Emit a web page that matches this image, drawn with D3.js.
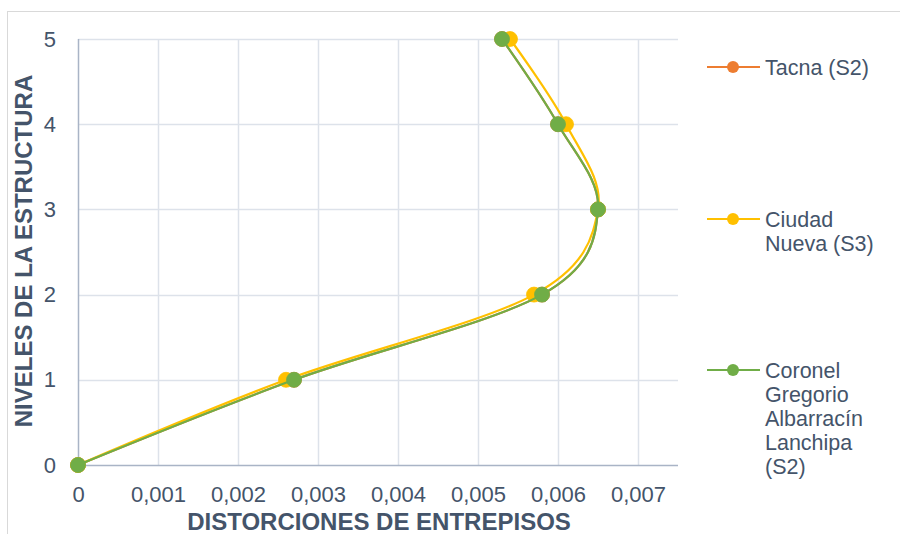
<!DOCTYPE html>
<html><head><meta charset="utf-8">
<script src="https://cdn.jsdelivr.net/npm/d3@7"></script>
<style>body{margin:0;background:#fff}svg{display:block}</style>
</head><body><svg id="c" width="900" height="534"></svg>
<script>
const levels = [0, 1, 2, 3, 4, 5];
const seriesNames = ["Tacna (S2)", "Ciudad Nueva (S3)", "Coronel Gregorio Albarracín Lanchipa (S2)"];
const tacna = [0, 0.0027, 0.0058, 0.0065, 0.0060, 0.0053];
const ciudadNueva = [0, 0.0026, 0.0057, 0.0065, 0.0061, 0.0054];
const coronel = [0, 0.0027, 0.0058, 0.0065, 0.0060, 0.0053];
const xTicks = [0, 0.001, 0.002, 0.003, 0.004, 0.005, 0.006, 0.007];
const yTicks = [0, 1, 2, 3, 4, 5];
const legendLines = [["Tacna (S2)"], ["Ciudad", "Nueva (S3)"], ["Coronel", "Gregorio", "Albarracín", "Lanchipa", "(S2)"]];
const colors = ["#ED7D31", "#FFC000", "#70AD47"];

const svg = d3.select("#c");
const font = "'Liberation Sans', Arial, sans-serif";
const txt = "#44546A";

svg.append("rect").attr("x", 7.5).attr("y", 11.5).attr("width", 900).attr("height", 540)
  .attr("fill", "#fff").attr("stroke", "#D9D9D9").attr("stroke-width", 1);

const x = d3.scaleLinear().domain([0, 0.0075]).range([78, 678]);
const y = d3.scaleLinear().domain([0, 5]).range([465, 39]);

const g = svg.append("g");
g.selectAll(".vg").data(xTicks.slice(1)).join("line")
  .attr("x1", d => Math.round(x(d)) + 0.5).attr("x2", d => Math.round(x(d)) + 0.5)
  .attr("y1", y(5)).attr("y2", y(0)).attr("stroke", "#DDE2EA").attr("stroke-width", 1.5);
g.selectAll(".hg").data(yTicks.slice(1)).join("line")
  .attr("x1", x(0)).attr("x2", x(0.0075))
  .attr("y1", d => Math.round(y(d)) + 0.5).attr("y2", d => Math.round(y(d)) + 0.5)
  .attr("stroke", "#DDE2EA").attr("stroke-width", 1.5);
g.append("line").attr("x1", x(0)).attr("x2", x(0.0075)).attr("y1", y(0) + 0.5).attr("y2", y(0) + 0.5)
  .attr("stroke", "#A9B4C6").attr("stroke-width", 1.5);
g.append("line").attr("x1", x(0) + 0.5).attr("x2", x(0) + 0.5).attr("y1", y(5)).attr("y2", y(0))
  .attr("stroke", "#A9B4C6").attr("stroke-width", 1.5);

const fmt = d => d === 0 ? "0" : d3.format(".3f")(d).replace(".", ",");
const xa = svg.append("g").attr("transform", `translate(0,${y(0)})`)
  .call(d3.axisBottom(x).tickValues(xTicks).tickFormat(fmt).tickSize(0).tickPadding(21));
const ya = svg.append("g").attr("transform", `translate(${x(0)},0)`)
  .call(d3.axisLeft(y).tickValues(yTicks).tickFormat(d3.format("d")).tickSize(0).tickPadding(22));
[xa, ya].forEach(a => {
  a.select(".domain").remove();
  a.selectAll("text").attr("fill", txt).attr("font-family", font).attr("font-size", 22);
});

svg.append("text").attr("x", 379).attr("y", 530).attr("text-anchor", "middle")
  .attr("font-family", font).attr("font-weight", "bold").attr("font-size", 24).attr("fill", txt)
  .text("DISTORCIONES DE ENTREPISOS");
svg.append("text").attr("transform", "translate(32,251) rotate(-90)").attr("text-anchor", "middle")
  .attr("font-family", font).attr("font-weight", "bold").attr("font-size", 24).attr("fill", txt)
  .text("NIVELES DE LA ESTRUCTURA");

const allSeries = [tacna, ciudadNueva, coronel];
const line = d3.line().x(d => x(d[0])).y(d => y(d[1])).curve(d3.curveCatmullRom.alpha(0));
allSeries.forEach((vals, i) => {
  const pts = vals.map((v, k) => [v, levels[k]]);
  svg.append("path").attr("d", line(pts)).attr("fill", "none")
    .attr("stroke", colors[i]).attr("stroke-width", 2.2);
  svg.append("g").selectAll("circle").data(pts).join("circle")
    .attr("cx", d => x(d[0])).attr("cy", d => y(d[1])).attr("r", 7.5)
    .attr("fill", colors[i]).attr("stroke", colors[i]).attr("stroke-width", 0.8);
});

const legY = [67, 219, 370];
legendLines.forEach((ls, i) => {
  const lg = svg.append("g");
  lg.append("line").attr("x1", 707).attr("x2", 760).attr("y1", legY[i]).attr("y2", legY[i])
    .attr("stroke", colors[i]).attr("stroke-width", 2.2);
  lg.append("circle").attr("cx", 733).attr("cy", legY[i]).attr("r", 6).attr("fill", colors[i]);
  ls.forEach((t, k) => {
    lg.append("text").attr("x", 765).attr("y", legY[i] + k * 24.2).attr("dy", "0.35em")
      .attr("font-family", font).attr("font-size", 21.5).attr("fill", txt).text(t);
  });
});
</script></body></html>
